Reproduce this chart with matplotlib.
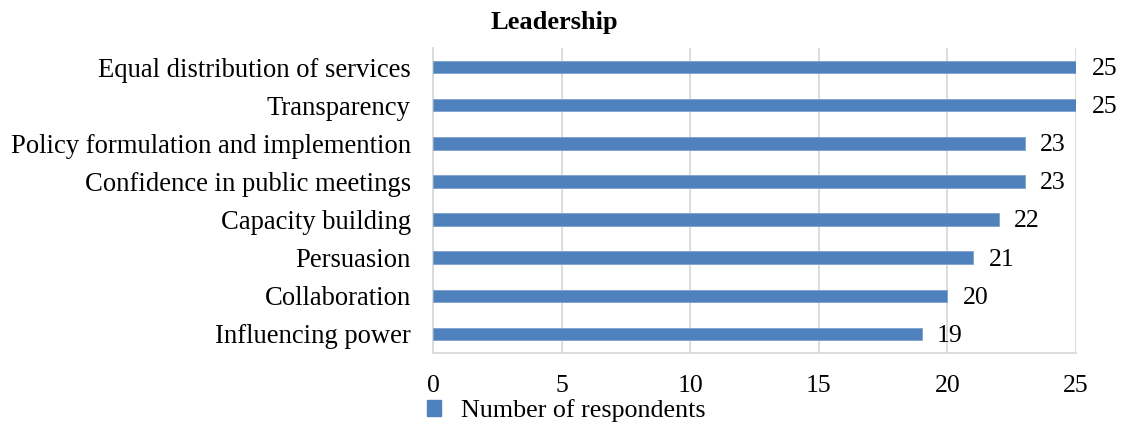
import matplotlib.pyplot as plt
from matplotlib.patches import Patch

categories = [
    "Equal distribution of services",
    "Transparency",
    "Policy formulation and implemention",
    "Confidence in public meetings",
    "Capacity building",
    "Persuasion",
    "Collaboration",
    "Influencing power",
]
respondents = [25, 25, 23, 23, 22, 21, 20, 19]
xticks = [0, 5, 10, 15, 20, 25]

bar_color = "#4F81BD"
grid_color = "#D9D9D9"

plt.rcParams["font.family"] = ["Liberation Serif", "DejaVu Serif"]

fig = plt.figure(figsize=(11.23, 4.25), dpi=100)
ax = fig.add_axes([0.3856, 0.1694, 0.5726, 0.7176])

pos = list(range(len(categories)))[::-1]
bars = ax.barh(pos, respondents, height=0.33, color=bar_color,
               edgecolor="#7FA1CF", linewidth=0.6, zorder=3)

for p, v in zip(pos, respondents):
    ax.text(v + 0.6, p - 0.05, str(v), va="center", ha="left", fontsize=18.5)

ax.set_xlim(0, 25)
ax.set_ylim(-0.5, len(categories) - 0.5)
ax.set_xticks(xticks)
ax.set_yticks(pos)
ax.set_yticklabels(categories, fontsize=19.2)
ax.tick_params(axis="x", labelsize=18.5, length=0, pad=16)
ax.tick_params(axis="y", length=0, pad=16)

ax.grid(axis="x", color=grid_color, linewidth=1.3, zorder=0)
for s in ["top", "right"]:
    ax.spines[s].set_visible(False)
ax.spines["left"].set_color(grid_color)
ax.spines["left"].set_linewidth(1.3)
ax.spines["bottom"].set_color(grid_color)
ax.spines["bottom"].set_linewidth(1.3)

fig.text(0.494, 0.948, "Leadership", ha="center", va="center",
         fontsize=19, fontweight="bold")

handle = Patch(facecolor=bar_color, edgecolor=bar_color)
fig.legend([handle], ["Number of respondents"], loc="center",
           bbox_to_anchor=(0.504, 0.033), frameon=False, fontsize=18.7,
           handlelength=0.55, handleheight=0.55, handletextpad=0.75)

fig.savefig("out.png", dpi=100)
